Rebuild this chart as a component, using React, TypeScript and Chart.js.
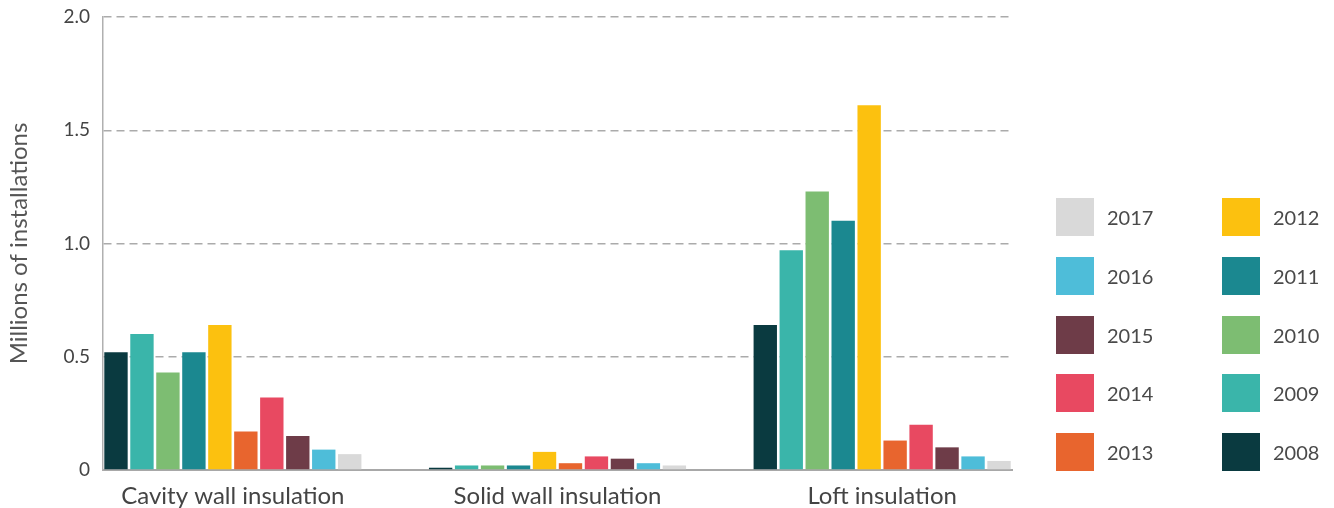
import React, { useEffect, useRef } from "react";
import { Chart, registerables } from "chart.js";

Chart.register(...registerables);

const categories = ["Cavity wall insulation", "Solid wall insulation", "Loft insulation"];
const years = ["2008", "2009", "2010", "2011", "2012", "2013", "2014", "2015", "2016", "2017"];
const colors = ["#0a3a40", "#3ab5aa", "#7dbd72", "#1b8890", "#fcc10f", "#e8652e", "#e84961", "#6e3c48", "#4ebdd9", "#d9d9d9"];

const cavity = [0.52, 0.6, 0.43, 0.52, 0.64, 0.17, 0.32, 0.15, 0.09, 0.07];
const solid = [0.01, 0.02, 0.02, 0.02, 0.08, 0.03, 0.06, 0.05, 0.03, 0.02];
const loft = [0.64, 0.97, 1.23, 1.1, 1.61, 0.13, 0.2, 0.1, 0.06, 0.04];

const yTicks = [0, 0.5, 1.0, 1.5, 2.0];
const yTickLabels = ["0", "0.5", "1.0", "1.5", "2.0"];

const legendLeft = ["2017", "2016", "2015", "2014", "2013"];
const legendRight = ["2012", "2011", "2010", "2009", "2008"];

const FONT = "Lato, 'Open Sans', sans-serif";

export default function App() {
  const ref = useRef<HTMLCanvasElement | null>(null);

  useEffect(() => {
    if (!ref.current) return;
    const series = [cavity, solid, loft];
    const datasets = years.map((y, i) => ({
      label: y,
      data: series.map((s, ci) => ({ x: ci, y: s[i] })),
      backgroundColor: colors[i],
      borderWidth: 0,
      categoryPercentage: 0.8,
      barPercentage: 0.9,
    }));
    const chart = new Chart(ref.current, {
      type: "bar",
      data: { datasets },
      options: {
        animation: false,
        responsive: true,
        maintainAspectRatio: false,
        layout: { padding: { top: 17, right: 322, bottom: 0, left: 0 } },
        plugins: { legend: { display: false }, tooltip: { enabled: false } },
        scales: {
          x: {
            type: "linear",
            min: -0.4,
            max: 2.4,
            offset: false,
            afterBuildTicks: (scale: any) => {
              scale.ticks = categories.map((_, i) => ({ value: i }));
            },
            afterFit: (scale: any) => {
              scale.height = 38;
              scale.paddingLeft = 0;
              scale.paddingRight = 0;
            },
            grid: { display: false, drawTicks: false },
            border: { display: true, color: "#a8a8a8", width: 2 },
            ticks: {
              autoSkip: false,
              maxRotation: 0,
              padding: 12,
              color: "#444",
              font: { family: FONT, size: 24 },
              callback: (v: any) => categories[v] ?? "",
            },
          },
          y: {
            min: 0,
            max: 2,
            afterBuildTicks: (scale: any) => {
              scale.ticks = yTicks.map((v) => ({ value: v }));
            },
            afterFit: (scale: any) => {
              scale.width = 103;
              scale.paddingTop = 0;
              scale.paddingBottom = 0;
            },
            grid: {
              drawTicks: false,
              lineWidth: 1.5,
              color: (c: any) => (c.tick && c.tick.value === 0 ? "rgba(0,0,0,0)" : "#ababab"),
            },
            border: { display: true, color: "#b0b0b0", width: 1.5, dash: [8, 5] },
            ticks: {
              padding: 13,
              color: "#444",
              font: { family: FONT, size: 19 },
              callback: (v: any) => {
                const idx = yTicks.indexOf(v);
                return idx >= 0 ? yTickLabels[idx] : "";
              },
            },
            title: {
              display: true,
              text: "Millions of installations",
              color: "#555",
              font: { family: FONT, size: 24 },
              padding: { top: 5, bottom: 0 },
            },
          },
        },
      },
    });
    return () => chart.destroy();
  }, []);

  const legendItem = (year: string, row: number, col: number) => {
    const idx = years.indexOf(year);
    const sx = col === 0 ? 1056 : 1222;
    const tx = col === 0 ? 1107 : 1273;
    const top = 198 + row * 58.8;
    return (
      <React.Fragment key={year}>
        <div
          style={{
            position: "absolute",
            left: sx,
            top,
            width: 38,
            height: 38,
            background: colors[idx],
          }}
        />
        <div
          style={{
            position: "absolute",
            left: tx,
            top,
            height: 38,
            lineHeight: "38px",
            fontFamily: FONT,
            fontSize: 20,
            color: "#4a4a4a",
          }}
        >
          {year}
        </div>
      </React.Fragment>
    );
  };

  return (
    <div style={{ position: "absolute", left: 0, top: 0, width: 1334, height: 508, background: "#fff" }}>
      <div style={{ position: "absolute", left: 0, top: 0, width: 1334, height: 508 }}>
        <canvas ref={ref} />
      </div>
      {legendLeft.map((y, r) => legendItem(y, r, 0))}
      {legendRight.map((y, r) => legendItem(y, r, 1))}
    </div>
  );
}
